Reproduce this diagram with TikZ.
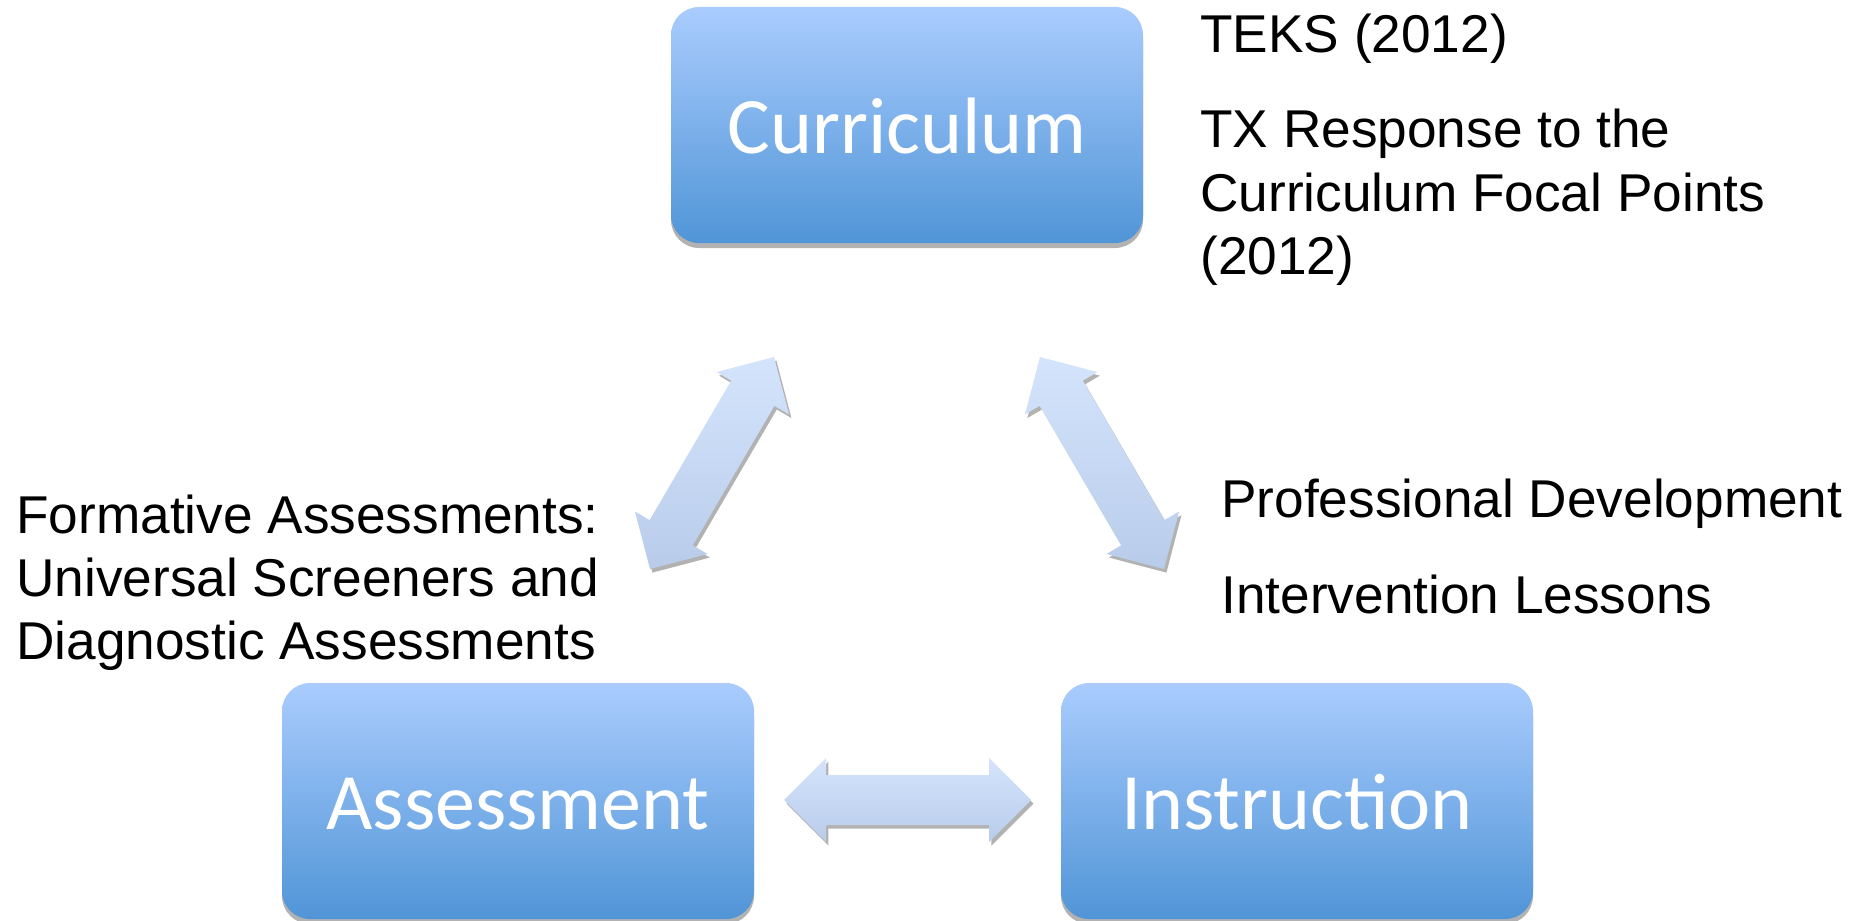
\documentclass[tikz,border=0pt]{standalone}
\usepackage{fontspec}
\setmainfont{Liberation Sans}
\newfontfamily\boxfont{Carlito}
\usetikzlibrary{calc,shadows}
\definecolor{boxtop}{RGB}{170,204,254}
\definecolor{boxbot}{RGB}{80,149,215}
\definecolor{arrtop}{RGB}{212,228,252}
\definecolor{arrbot}{RGB}{184,204,234}
\tikzset{
  stagebox/.style={rectangle, rounded corners=14pt, inner sep=0pt,
    minimum width=236pt, minimum height=118pt,
    top color=boxtop, bottom color=boxbot, draw=none,
    drop shadow={shadow xshift=0pt, shadow yshift=-2.5pt, opacity=0.3, fill=black},
    text=white, font=\boxfont\fontsize{40pt}{48pt}\selectfont,
    text height=28.6pt, text depth=0pt},
  arrowshape/.style={top color=arrtop, bottom color=arrbot, draw=none,
    drop shadow={shadow xshift=1.2pt, shadow yshift=-1.8pt, opacity=0.3, fill=black}},
  label/.style={anchor=base west, inner sep=0pt, text=black,
    font=\fontsize{26.6pt}{31.5pt}\selectfont}
}
\newcommand\blockarrow[2]{%
  \coordinate (#1h) at ($(#1)!21pt!(#2)$);
  \coordinate (#2h) at ($(#2)!21pt!(#1)$);
  \shade[arrowshape] (#1)
   -- ($(#1h)!21pt!90:(#2)$)
   -- ($(#1h)!12.5pt!90:(#2)$)
   -- ($(#2h)!12.5pt!-90:(#1)$)
   -- ($(#2h)!21pt!-90:(#1)$)
   -- (#2)
   -- ($(#2h)!21pt!90:(#1)$)
   -- ($(#2h)!12.5pt!90:(#1)$)
   -- ($(#1h)!12.5pt!-90:(#2)$)
   -- ($(#1h)!21pt!-90:(#2)$)
   -- cycle;}
\begin{document}
\begin{tikzpicture}[x=0.5pt,y=-0.5pt]
\useasboundingbox (0,0) rectangle (1866,920);
% boxes
\node[stagebox] (cur) at (907,125) {Curriculum};
\node[stagebox] (ass) at (518,801) {Assessment};
\node[stagebox] (ins) at (1297,801) {Instruction};
% arrow tips
\coordinate (lt) at (774,357);
\coordinate (lb) at (650,569);
\coordinate (rt) at (1040,357);
\coordinate (rb) at (1164,569);
\coordinate (hl) at (784,800);
\coordinate (hr) at (1031,800);
\blockarrow{lt}{lb}
\blockarrow{rt}{rb}
\blockarrow{hl}{hr}
% labels
\node[label] (teks) at (1200,53) {TEKS (2012)};
\node[label] (tx1) at (1200,148) {TX Response to the};
\node[label] (tx2) at (1200,211) {Curriculum Focal Points};
\node[label] (tx3) at (1200,274) {(2012)};
\node[label] (fa1) at (16,533) {Formative Assessments:};
\node[label] (fa2) at (16,596) {Universal Screeners and};
\node[label] (fa3) at (16,659) {Diagnostic Assessments};
\node[label] (pd) at (1221,517) {Professional Development};
\node[label] (il) at (1221,613) {Intervention Lessons};
\end{tikzpicture}
\end{document}
